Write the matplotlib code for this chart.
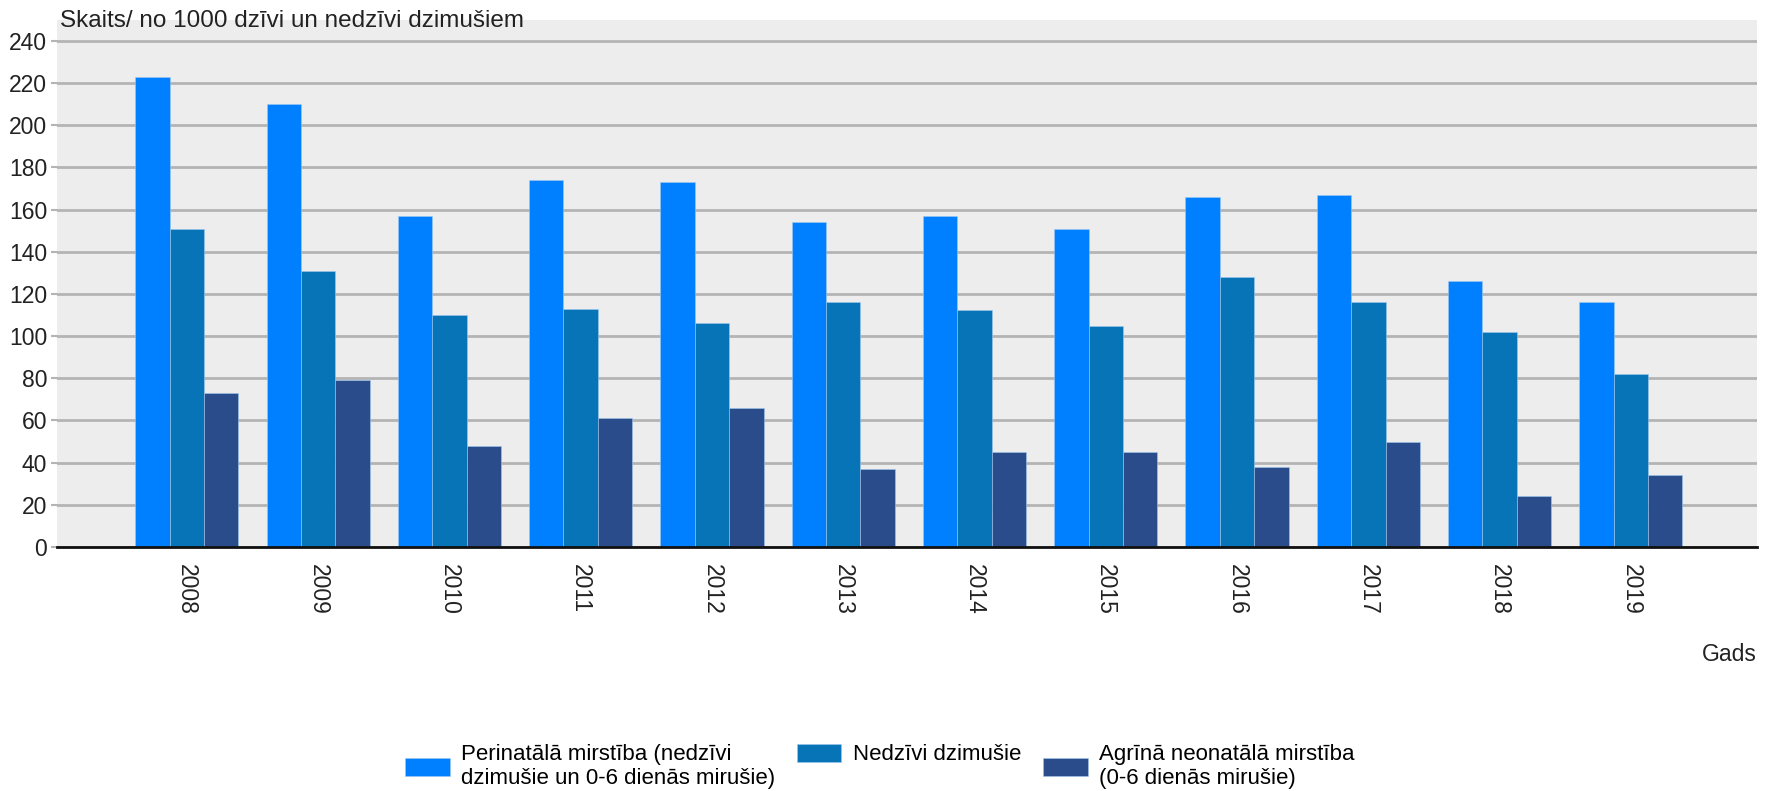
import numpy as np
import matplotlib.pyplot as plt

plt.rcParams['font.family'] = ['Liberation Sans', 'DejaVu Sans']

gadi = ['2008', '2009', '2010', '2011', '2012', '2013',
        '2014', '2015', '2016', '2017', '2018', '2019']
perinatala = [223, 210, 157, 174, 173, 154, 157, 151, 166, 167, 126, 116]
nedzivi = [151, 131, 110, 113, 106, 116, 112.5, 105, 128, 116, 102, 82]
agrina = [73, 79, 48, 61, 66, 37, 45, 45, 38, 50, 24, 34]

nosaukumi = ['Perinatālā mirstība (nedzīvi\ndzimušie un 0-6 dienās mirušie)',
             'Nedzīvi dzimušie',
             'Agrīnā neonatālā mirstība\n(0-6 dienās mirušie)']
krasas = ['#0080ff', '#0774b8', '#2a4c8a']

fig = plt.figure(figsize=(17.77, 7.91), dpi=100)
ax = fig.add_axes([0.032, 0.3085, 0.9567, 0.6665])
ax.set_facecolor('#ededed')

x = np.arange(len(gadi))
w = 0.262
for k, (vert, nos, kr) in enumerate(zip([perinatala, nedzivi, agrina], nosaukumi, krasas)):
    ax.bar(x + (k - 1) * w, vert, w, color=kr, label=nos, zorder=3,
           edgecolor='#9ec9f0', linewidth=0.4)

ax.set_xlim(-0.99, 11.96)
ax.set_ylim(0, 250)
ax.set_yticks(range(0, 241, 20))
ax.yaxis.grid(True, color='#b4b4b4', linewidth=2, zorder=0)
ax.set_axisbelow(True)

for s in ['top', 'right', 'left']:
    ax.spines[s].set_visible(False)
ax.spines['bottom'].set_linewidth(2)
ax.spines['bottom'].set_color('#111111')
ax.spines['bottom'].set_zorder(4)

ax.set_xticks(x)
ax.set_xticklabels(gadi, rotation=-90, va='top', ha='center')
ax.tick_params(axis='x', length=0, pad=12, labelsize=16.5, labelcolor='#222222')
ax.tick_params(axis='y', length=4, color='#b4b4b4', width=1.5, pad=3,
               labelsize=16.5, labelcolor='#222222')

fig.text(0.0335, 0.973, 'Skaits/ no 1000 dzīvi un nedzīvi dzimušiem',
         fontsize=17.5, color='#222222', va='center', ha='left')
fig.text(0.9887, 0.172, 'Gads', fontsize=16.5, color='#222222',
         va='center', ha='right')

leg = ax.legend(loc='center', bbox_to_anchor=(0.495, 0.031), bbox_transform=fig.transFigure,
                ncol=3, frameon=False, fontsize=16, handlelength=2.0, handleheight=0.85,
                handletextpad=0.5, columnspacing=1.0, labelspacing=0.1)
# vienas rindas ieraksts pie augšējās rindas
leg._legend_handle_box.align = 'top'

fig.savefig('out.png', dpi=100)
